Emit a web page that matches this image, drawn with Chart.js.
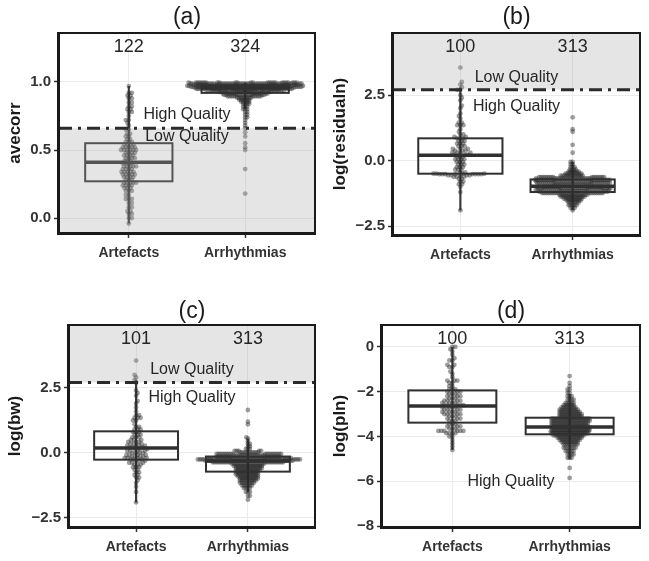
<!DOCTYPE html>
<html><head><meta charset="utf-8">
<script src="https://cdn.jsdelivr.net/npm/chart.js@4.4.0/dist/chart.umd.min.js"></script>
<style>
html,body{margin:0;padding:0;background:#fff;}
#wrap{position:relative;width:649px;height:561px;overflow:hidden;background:#fff;}
canvas{position:absolute;}
</style></head><body><div id="wrap">
<canvas id="ca" width="325" height="280" style="left:0;top:0"></canvas>
<canvas id="cb" width="324" height="280" style="left:325px;top:0"></canvas>
<canvas id="cc" width="325" height="281" style="left:0;top:280px"></canvas>
<canvas id="cd" width="324" height="281" style="left:325px;top:280px"></canvas>
</div>
<script>
// ---------------- DATA ----------------
const categories = ['Artefacts', 'Arrhythmias'];

// each group: [value, number of points at about that value]
const avecorrArtefacts = [[0.97,1],[0.92,2],[0.90,2],[0.88,2],[0.85,2],[0.82,2],[0.80,2],[0.78,2],[0.75,1],[0.72,2],[0.70,1],[0.68,1],[0.65,2],[0.62,2],[0.60,2],[0.58,2],[0.56,3],[0.54,4],[0.52,5],[0.50,6],[0.48,4],[0.46,4],[0.44,4],[0.42,3],[0.40,4],[0.38,5],[0.36,4],[0.34,5],[0.32,5],[0.30,4],[0.28,3],[0.26,5],[0.24,4],[0.22,3],[0.20,3],[0.17,2],[0.14,3],[0.11,2],[0.08,2],[0.05,2],[0.03,2],[0.00,2],[-0.04,1]];
const avecorrArrhythmias = [[0.995,25],[0.988,30],[0.980,26],[0.972,28],[0.965,27],[0.958,26],[0.950,25],[0.943,22],[0.935,18],[0.927,16],[0.915,13],[0.905,12],[0.895,10],[0.885,8],[0.87,6],[0.855,5],[0.84,4],[0.82,3],[0.80,3],[0.78,2],[0.76,2],[0.74,2],[0.72,1],[0.70,1],[0.68,1],[0.66,1],[0.63,1],[0.60,1],[0.55,1],[0.52,1],[0.50,1],[0.36,1],[0.18,1]];
const residualArtefacts = [[3.55,1],[3.0,1],[2.9,1],[2.8,1],[2.7,2],[2.5,1],[2.4,1],[2.3,1],[2.1,1],[2.0,1],[1.8,1],[1.7,1],[1.6,1],[1.45,2],[1.35,3],[1.2,1],[1.1,1],[1.0,2],[0.9,2],[0.85,3],[0.75,3],[0.65,3],[0.55,3],[0.45,3],[0.38,3],[0.3,4],[0.22,3],[0.15,3],[0.05,4],[-0.05,3],[-0.15,3],[-0.25,3],[-0.35,3],[-0.45,2],[-0.5,4],[-0.52,8],[-0.56,4],[-0.58,1],[-0.62,3],[-0.7,2],[-0.8,2],[-0.9,2],[-1.0,1],[-1.2,1],[-1.9,1]];
const residualArrhythmias = [[1.65,1],[1.2,1],[1.1,1],[0.6,1],[0.3,1],[-0.05,2],[-0.15,2],[-0.25,3],[-0.35,4],[-0.42,6],[-0.5,9],[-0.57,12],[-0.63,15],[-0.68,20],[-0.74,20],[-0.8,20],[-0.86,19],[-0.92,19],[-1.0,20],[-1.06,20],[-1.12,20],[-1.18,19],[-1.24,17],[-1.3,15],[-1.37,13],[-1.45,10],[-1.52,8],[-1.6,6],[-1.7,5],[-1.8,3],[-1.9,1]];
const bwArtefacts = [[3.55,1],[3.0,1],[2.9,1],[2.8,1],[2.7,1],[2.4,1],[2.3,1],[2.2,1],[2.0,1],[1.9,1],[1.75,1],[1.6,1],[1.45,2],[1.35,3],[1.25,2],[1.1,1],[1.0,2],[0.9,3],[0.8,3],[0.7,3],[0.6,3],[0.5,3],[0.42,3],[0.35,3],[0.28,4],[0.21,3],[0.15,3],[0.08,4],[0.0,4],[-0.08,4],[-0.14,4],[-0.2,4],[-0.25,3],[-0.3,3],[-0.38,3],[-0.45,3],[-0.55,3],[-0.65,2],[-0.75,2],[-0.85,2],[-0.95,2],[-1.05,1],[-1.15,1],[-1.3,1],[-1.5,1],[-1.9,1]];
const bwArrhythmias = [[1.65,1],[1.2,1],[1.1,1],[0.6,1],[0.55,1],[0.45,1],[0.35,2],[0.25,2],[0.15,3],[0.08,5],[0.02,10],[-0.04,18],[-0.1,16],[-0.15,16],[-0.2,26],[-0.25,26],[-0.3,26],[-0.36,20],[-0.42,17],[-0.5,15],[-0.58,14],[-0.66,13],[-0.74,12],[-0.82,12],[-0.9,11],[-0.98,10],[-1.06,9],[-1.15,8],[-1.25,6],[-1.35,4],[-1.5,3],[-1.65,2],[-1.8,1]];
const plnArtefacts = [[0.0,2],[-0.1,1],[-0.2,1],[-0.35,1],[-0.5,1],[-0.6,2],[-0.8,2],[-0.9,2],[-1.1,1],[-1.2,1],[-1.35,1],[-1.5,3],[-1.6,2],[-1.75,2],[-1.9,3],[-2.0,3],[-2.1,3],[-2.2,3],[-2.3,3],[-2.4,4],[-2.5,4],[-2.6,5],[-2.7,4],[-2.8,4],[-2.9,4],[-3.0,4],[-3.1,3],[-3.2,3],[-3.3,3],[-3.45,3],[-3.55,3],[-3.65,3],[-3.75,6],[-3.85,4],[-4.0,2],[-4.15,1],[-4.3,1],[-4.45,1],[-4.6,1]];
const plnArrhythmias = [[-1.3,1],[-1.6,1],[-1.75,1],[-1.9,2],[-2.05,2],[-2.2,3],[-2.35,4],[-2.5,5],[-2.6,6],[-2.7,8],[-2.8,10],[-2.9,11],[-3.0,12],[-3.1,12],[-3.2,20],[-3.3,20],[-3.4,19],[-3.5,19],[-3.6,20],[-3.7,20],[-3.78,20],[-3.86,19],[-3.95,16],[-4.05,13],[-4.15,11],[-4.25,9],[-4.35,8],[-4.5,7],[-4.65,5],[-4.8,4],[-4.95,3],[-5.4,1],[-5.85,1]];

// box stats per group: [whisker low, Q1, median, Q3, whisker high]
const avecorrBoxes  = [[-0.04,0.27,0.41,0.55,0.97],[0.80,0.92,0.955,0.975,0.995]];
const residualBoxes = [[-1.9,-0.5,0.2,0.85,2.8],[-1.9,-1.2,-0.98,-0.72,-0.05]];
const bwBoxes       = [[-1.9,-0.26,0.19,0.83,2.8],[-1.5,-0.72,-0.31,-0.14,0.55]];
const plnBoxes      = [[-4.6,-3.38,-2.64,-1.94,0.0],[-5.0,-3.9,-3.57,-3.16,-2.1]];

// group sizes shown above each group
const avecorrCounts  = [122, 324];
const residualCounts = [100, 313];
const bwCounts       = [101, 313];
const plnCounts      = [100, 313];

// quality thresholds and labels
const avecorrThreshold = 0.66;
const residualThreshold = 2.708;
const bwThreshold = 2.708;
const avecorrQuality  = [['High Quality', 0.76], ['Low Quality', 0.595]];
const residualQuality = [['Low Quality', 3.15], ['High Quality', 2.08]];
const bwQuality       = [['Low Quality', 3.2], ['High Quality', 2.12]];
const plnQuality      = [['High Quality', -6.0]];

// tick values / labels
const avecorrTicks = [0, 0.5, 1.0];        const avecorrTickLabels = ['0.0', '0.5', '1.0'];
const residualTicks = [-2.5, 0, 2.5];      const residualTickLabels = ['\u22122.5', '0.0', '2.5'];
const bwTicks = [-2.5, 0, 2.5];            const bwTickLabels = ['\u22122.5', '0.0', '2.5'];
const plnTicks = [-8, -6, -4, -2, 0];      const plnTickLabels = ['\u22128', '\u22126', '\u22124', '\u22122', '0'];

// ---------------- PANELS ----------------
const panels = [
  {id:'ca', title:'(a)', yTitle:'avecorr', groups:[avecorrArtefacts, avecorrArrhythmias], boxes:avecorrBoxes, counts:avecorrCounts,
   yMin:-0.11, yMax:1.36, ticks:avecorrTicks, tickLabels:avecorrTickLabels, threshold:avecorrThreshold, shade:'below', quality:avecorrQuality,
   L:{W:325, H:280, left:59, top:33, right:315, bottom:233, titleGap:15}},
  {id:'cb', title:'(b)', yTitle:'log(residualn)', groups:[residualArtefacts, residualArrhythmias], boxes:residualBoxes, counts:residualCounts,
   yMin:-2.84, yMax:4.87, ticks:residualTicks, tickLabels:residualTickLabels, threshold:residualThreshold, shade:'above', quality:residualQuality,
   L:{W:324, H:280, left:68, top:33, right:315, bottom:235, titleGap:15}},
  {id:'cc', title:'(c)', yTitle:'log(bw)', groups:[bwArtefacts, bwArrhythmias], boxes:bwBoxes, counts:bwCounts,
   yMin:-2.85, yMax:4.92, ticks:bwTicks, tickLabels:bwTickLabels, threshold:bwThreshold, shade:'above', quality:bwQuality,
   L:{W:325, H:281, left:69, top:45, right:315, bottom:247, titleGap:13}},
  {id:'cd', title:'(d)', yTitle:'log(pln)', groups:[plnArtefacts, plnArrhythmias], boxes:plnBoxes, counts:plnCounts,
   yMin:-8.04, yMax:0.98, ticks:plnTicks, tickLabels:plnTickLabels, threshold:null, shade:null, quality:plnQuality,
   L:{W:324, H:281, left:57, top:45, right:315, bottom:247, titleGap:13}}
];

const FONT = "'Liberation Sans', Arial, Helvetica, sans-serif";
Chart.defaults.font.family = FONT;
const SPACING = [3.0, 2.0];  // beeswarm collision distance in px (Artefacts, Arrhythmias)
const BOX_HALF = 0.375;      // half box width in category units

function expand(levels) {
  const out = [];
  levels.forEach(([v, n]) => { for (let k = 0; k < n; k++) out.push(v); });
  return out;
}

function swarm(ys, d) {
  const order = ys.map((_, i) => i).sort((a, b) => ys[b] - ys[a]);
  const placed = [];
  const out = new Array(ys.length).fill(0);
  let flip = false;
  for (const i of order) {
    const y = ys[i];
    const near = placed.filter(p => Math.abs(p.y - y) < d);
    const cands = [0];
    near.forEach(p => { const dx = Math.sqrt(d * d - (p.y - y) ** 2); cands.push(p.x + dx, p.x - dx); });
    cands.sort((a, b) => (Math.abs(a) - Math.abs(b)) || (flip ? a - b : b - a));
    let best = 0;
    for (const c of cands) {
      if (near.every(p => (p.x - c) ** 2 + (p.y - y) ** 2 >= d * d - 1e-6)) { best = c; break; }
    }
    flip = !flip;
    placed.push({x: best, y});
    out[i] = best;
  }
  return out;
}

function makePlugin(p) {
  return {
    id: 'panelDeco',
    afterDatasetsDraw(chart) {
      const {ctx, chartArea: ca} = chart;
      const xs = chart.scales.x, ys = chart.scales.y;
      const Y = v => ys.getPixelForValue(v);
      const X = v => xs.getPixelForValue(v);
      ctx.save();
      ctx.beginPath(); ctx.rect(ca.left, ca.top, ca.right - ca.left, ca.bottom - ca.top); ctx.clip();
      // boxes and whiskers
      p.boxes.forEach((b, i) => {
        const [lo, q1, med, q3, hi] = b;
        const c = X(i + 1), x0 = X(i + 1 - BOX_HALF), x1 = X(i + 1 + BOX_HALF);
        ctx.strokeStyle = 'rgba(40,40,40,0.9)';
        ctx.lineWidth = 2.2;
        ctx.beginPath(); ctx.moveTo(c, Y(lo)); ctx.lineTo(c, Y(hi)); ctx.stroke();
        ctx.strokeStyle = '#303030';
        ctx.lineWidth = 2;
        ctx.strokeRect(x0, Y(q3), x1 - x0, Y(q1) - Y(q3));
        ctx.lineWidth = 3.5;
        ctx.beginPath(); ctx.moveTo(x0, Y(med)); ctx.lineTo(x1, Y(med)); ctx.stroke();
      });
      // shaded low-quality region
      if (p.shade) {
        ctx.fillStyle = 'rgba(170,170,170,0.3)';
        const t = Y(p.threshold);
        if (p.shade === 'below') ctx.fillRect(ca.left, t, ca.right - ca.left, ca.bottom - t);
        else ctx.fillRect(ca.left, ca.top, ca.right - ca.left, t - ca.top);
      }
      // threshold line
      if (p.threshold !== null) {
        const t = Y(p.threshold);
        ctx.strokeStyle = '#2b2b2b';
        ctx.lineWidth = 3;
        ctx.setLineDash([13, 6, 3, 6]);
        ctx.beginPath(); ctx.moveTo(ca.left, t); ctx.lineTo(ca.right, t); ctx.stroke();
        ctx.setLineDash([]);
      }
      // quality labels
      ctx.fillStyle = '#262626';
      ctx.textAlign = 'center'; ctx.textBaseline = 'middle';
      ctx.font = '16px ' + FONT;
      p.quality.forEach(([txt, v]) => ctx.fillText(txt, X(1.5), Y(v)));
      // counts
      ctx.font = '18px ' + FONT;
      p.counts.forEach((n, i) => ctx.fillText(String(n), X(i + 1), ca.top + 14));
      ctx.restore();
      // border
      ctx.save();
      ctx.strokeStyle = '#1a1a1a';
      ctx.lineWidth = 2;
      ctx.strokeRect(ca.left, ca.top, ca.right - ca.left, ca.bottom - ca.top);
      ctx.lineWidth = 3;
      ctx.beginPath(); ctx.moveTo(ca.left - 0.5, ca.top - 1); ctx.lineTo(ca.left - 0.5, ca.bottom + 2); ctx.stroke();
      ctx.beginPath(); ctx.moveTo(ca.left - 2, ca.bottom + 0.5); ctx.lineTo(ca.right + 1, ca.bottom + 0.5); ctx.stroke();
      // panel title
      ctx.fillStyle = '#1a1a1a';
      ctx.font = '23px ' + FONT;
      ctx.textAlign = 'center'; ctx.textBaseline = 'middle';
      ctx.fillText(p.title, (ca.left + ca.right) / 2, ca.top - p.L.titleGap);
      ctx.restore();
    }
  };
}

panels.forEach(p => {
  const L = p.L;
  const datasets = p.groups.map((g, gi) => ({
    data: expand(g).map(v => ({x: gi + 1, y: v})),
    pointRadius: 2.4,
    pointHoverRadius: 2.4,
    pointBackgroundColor: 'rgba(40,40,40,0.45)',
    pointBorderWidth: 0,
    clip: 0
  }));
  const chart = new Chart(document.getElementById(p.id), {
    type: 'scatter',
    data: {datasets},
    options: {
      responsive: false, animation: false, devicePixelRatio: 1, events: [],
      layout: {padding: {left: 0, top: L.top, right: L.W - L.right, bottom: 0}},
      plugins: {legend: {display: false}, tooltip: {enabled: false}, title: {display: false}},
      scales: {
        x: {
          type: 'linear', min: 0.4, max: 2.6,
          afterBuildTicks: s => { s.ticks = [{value: 1}, {value: 2}]; },
          afterFit: s => { s.height = L.H - L.bottom; },
          ticks: {callback: v => categories[Math.round(v) - 1], font: {size: 14, weight: 'bold'}, color: '#333', padding: 7, autoSkip: false, maxRotation: 0},
          grid: {color: '#ebebeb', lineWidth: 1, tickLength: 5, tickColor: '#333', tickWidth: 1.5},
          border: {display: false}
        },
        y: {
          type: 'linear', min: p.yMin, max: p.yMax,
          afterBuildTicks: s => { s.ticks = p.ticks.map(v => ({value: v})); },
          afterFit: s => { s.width = L.left; },
          ticks: {callback: v => { const k = p.ticks.findIndex(t => Math.abs(t - v) < 1e-9); return k >= 0 ? p.tickLabels[k] : ''; },
                  font: {size: 15, weight: 'bold'}, color: '#333', padding: 3, autoSkip: false},
          grid: {color: '#ebebeb', lineWidth: 1, tickLength: 5, tickColor: '#333', tickWidth: 1.5},
          border: {display: false},
          title: {display: true, text: p.yTitle, font: {size: 17, weight: 'bold', lineHeight: 1}, color: '#1a1a1a', padding: {top: 6.5, bottom: 0}}
        }
      }
    },
    plugins: [makePlugin(p)]
  });
  const xs = chart.scales.x, ys = chart.scales.y;
  const pxPerUnit = xs.getPixelForValue(2) - xs.getPixelForValue(1);
  p.groups.forEach((g, gi) => {
    const vals = expand(g);
    const off = swarm(vals.map(v => ys.getPixelForValue(v)), SPACING[gi]);
    chart.data.datasets[gi].data = vals.map((v, k) => ({x: gi + 1 + off[k] / pxPerUnit, y: v}));
  });
  chart.update('none');
});
</script>
</body></html>
